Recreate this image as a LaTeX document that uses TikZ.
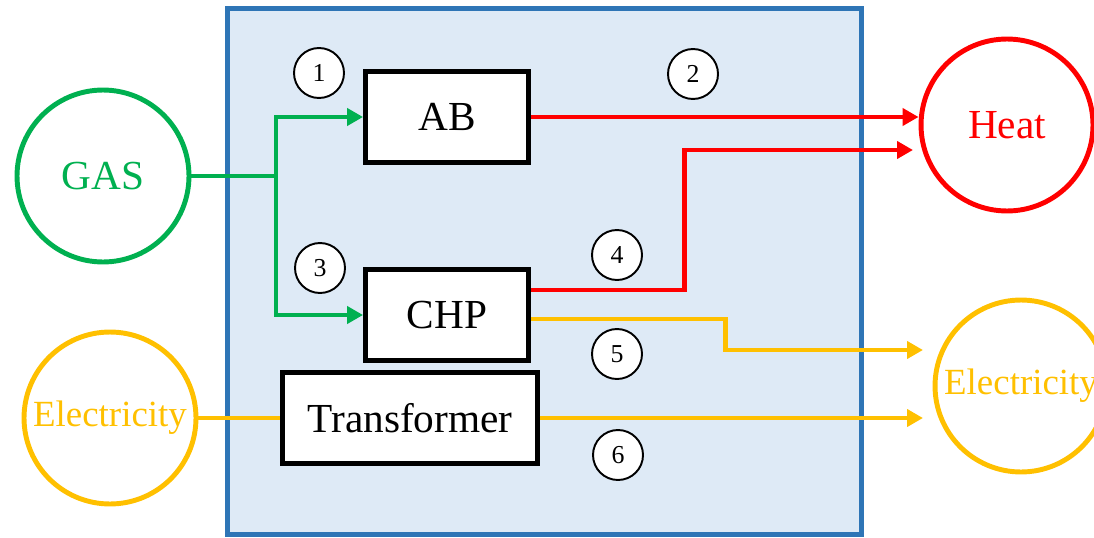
\documentclass[tikz,border=0pt]{standalone}
\usepackage{fontspec}
\setmainfont{Liberation Serif}
\usetikzlibrary{arrows.meta,calc}
\definecolor{gasgreen}{HTML}{00B050}
\definecolor{heatred}{HTML}{FF0000}
\definecolor{elecyellow}{HTML}{FFC000}
\definecolor{sysblue}{HTML}{2E75B6}
\definecolor{sysfill}{HTML}{DEEAF6}
\newcommand{\bigtext}{\fontsize{23.5}{26}\selectfont}

\begin{document}
\begin{tikzpicture}[
  x=0.02cm, y=-0.02cm,
  sysbox/.style={rectangle, draw=sysblue, line width=2.8pt, fill=sysfill, minimum width=12.69cm, minimum height=10.53cm},
  unitblock/.style={rectangle, draw, line width=2.8pt, fill=white, minimum height=1.82cm, inner sep=0pt, font=\bigtext},
  carrier/.style={circle, draw, line width=2.8pt, fill=white, minimum size=3.44cm, inner sep=0pt, font=\bigtext},
  numcirc/.style={circle, draw, line width=1.1pt, fill=white, minimum size=1cm, inner sep=0pt, font=\fontsize{14.7}{16}\selectfont},
  flow/.style={line width=2.8pt},
  arrow/.style={-{Triangle[length=3.2mm, width=3.4mm]}, line width=2.8pt},
]
\useasboundingbox (0,0) rectangle (1094,537);

\node[sysbox] (s-sys) at (544.75,271.75) {};

\node[carrier, draw=gasgreen, text=gasgreen] (s-gas) at (103,176) {GAS};
\node[carrier, draw=heatred, text=heatred] (s-heat) at (1007,125) {Heat};
\node[carrier, draw=elecyellow, text=elecyellow, font=\fontsize{21}{24}\selectfont] (s-elin) at (110,418) {Electricity};
\node[carrier, draw=elecyellow, text=elecyellow, font=\fontsize{21}{24}\selectfont] (s-elout) at (1021,386) {Electricity};

\node[unitblock, minimum width=3.26cm] (s-ab) at (447,117) {AB};
\node[unitblock, minimum width=3.26cm] (s-chp) at (447,315) {CHP};
\node[unitblock, minimum width=5.1cm] (s-trafo) at (410,418) {Transformer};

\coordinate (split) at (276,176);
\coordinate (heat-in) at (913,150);
\coordinate (el-in1) at (923,350);
\coordinate (el-in2) at (923,418);

\draw[flow, gasgreen] (s-gas) -- (split);
\draw[arrow, gasgreen] (split) |- (s-ab.west);
\draw[arrow, gasgreen] (split) |- (s-chp.west);
\draw[arrow, heatred] (s-ab.east) -- (s-ab.east -| s-heat.west);
\draw[arrow, heatred] ($(s-chp.east)+(0,-25)$) -- ++(154,0) |- (heat-in);
\draw[arrow, elecyellow] ($(s-chp.east)+(0,4)$) -- ++(195,0) |- (el-in1);
\draw[flow, elecyellow] (s-elin) -- (s-trafo);
\draw[arrow, elecyellow] (s-trafo) -- (el-in2);

\node[numcirc] (s-n1) at (319,73) {1};
\node[numcirc] (s-n2) at (693,74) {2};
\node[numcirc] (s-n3) at (320,268) {3};
\node[numcirc] (s-n4) at (617,255) {4};
\node[numcirc] (s-n5) at (617,354) {5};
\node[numcirc] (s-n6) at (618,455) {6};

\end{tikzpicture}
\end{document}
